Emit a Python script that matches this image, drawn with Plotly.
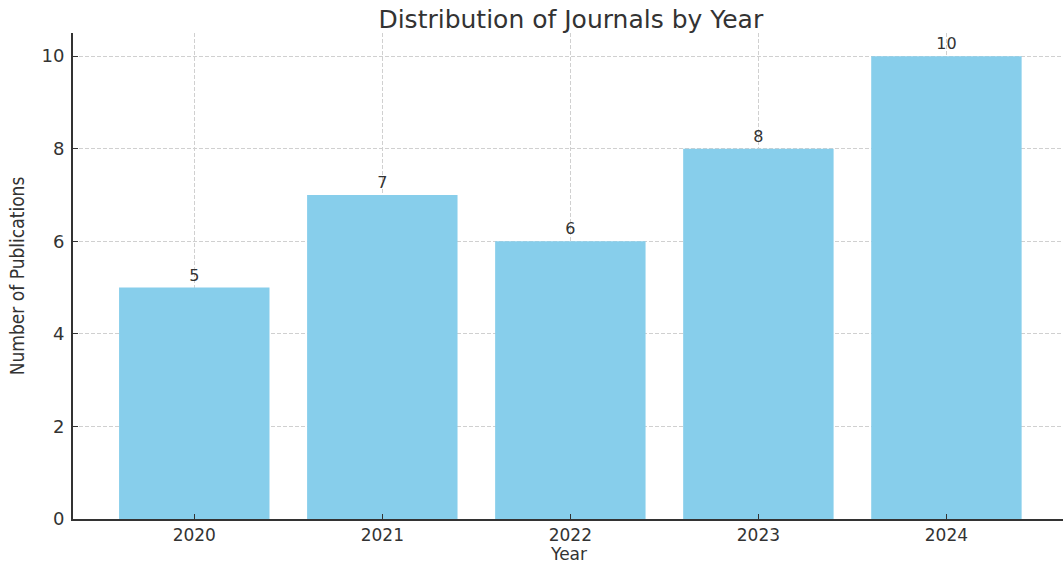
import plotly.graph_objects as go

years = ["2020", "2021", "2022", "2023", "2024"]
counts = [5, 7, 6, 8, 10]
y_ticks = [0, 2, 4, 6, 8, 10]

xpos = list(range(len(years)))

fig = go.Figure(go.Bar(
    x=xpos, y=counts, width=0.8,
    marker=dict(color="#87CEEB", line=dict(width=0)),
    text=[str(c) for c in counts], textposition="outside",
    textfont=dict(family="DejaVu Sans", size=16, color="#333333"),
    cliponaxis=False,
))

fig.update_layout(
    width=1063, height=566,
    margin=dict(l=73, r=0, t=33, b=47),
    paper_bgcolor="white", plot_bgcolor="white",
    title=dict(text="Distribution of Journals by Year", x=0.537, xanchor="center",
               y=0.982, yanchor="top",
               font=dict(family="DejaVu Sans", size=25, color="#333333")),
    showlegend=False,
    bargap=0.2,
    annotations=[dict(text="Year", xref="paper", yref="paper", x=0.5, y=-0.072,
                      xanchor="center", yanchor="middle", showarrow=False,
                      font=dict(family="DejaVu Sans", size=17, color="#333333"))],
)
fig.update_xaxes(
    tickvals=xpos, ticktext=years, range=[-0.645, 4.62],
    showline=True, linecolor="#333333", linewidth=2,
    ticks="inside", ticklen=5, tickcolor="#333333",
    showgrid=True, gridcolor="#d0d0d0", griddash="4px,2px", gridwidth=1,
    layer="above traces", automargin=False,
    tickfont=dict(family="DejaVu Sans", size=17, color="#333333"),
    zeroline=False,
)
fig.update_yaxes(
    tickvals=y_ticks, range=[0, 10.5],
    showline=True, linecolor="#333333", linewidth=2,
    ticks="inside", ticklen=5, tickcolor="#333333",
    showgrid=True, gridcolor="#d0d0d0", griddash="4px,2px", gridwidth=1,
    layer="above traces", automargin=False, ticklabelstandoff=3,
    tickfont=dict(family="DejaVu Sans", size=18, color="#333333"),
    title=dict(text="Number of Publications", standoff=12,
               font=dict(family="Liberation Sans Narrow, DejaVu Sans Condensed, Roboto", size=19, color="#333333")),
    zeroline=False,
)

fig.write_html("out.html")
